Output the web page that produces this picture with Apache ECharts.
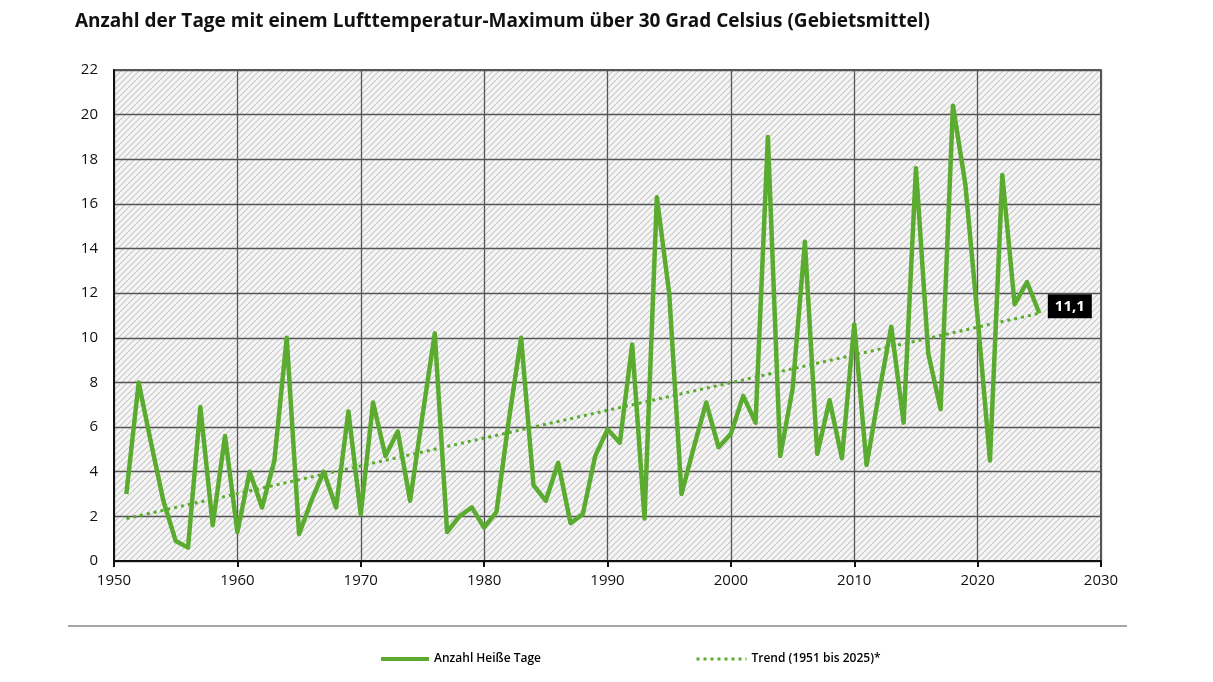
<!DOCTYPE html>
<html><head><meta charset="utf-8">
<script src="https://cdn.jsdelivr.net/npm/echarts@6/dist/echarts.min.js"></script>
<style>html,body{margin:0;padding:0;background:#fff}#c{width:1213px;height:682px}</style>
</head><body><div id="c"></div>
<script>
const years = [1951,1952,1953,1954,1955,1956,1957,1958,1959,1960,1961,1962,1963,1964,1965,1966,1967,1968,1969,1970,1971,1972,1973,1974,1975,1976,1977,1978,1979,1980,1981,1982,1983,1984,1985,1986,1987,1988,1989,1990,1991,1992,1993,1994,1995,1996,1997,1998,1999,2000,2001,2002,2003,2004,2005,2006,2007,2008,2009,2010,2011,2012,2013,2014,2015,2016,2017,2018,2019,2020,2021,2022,2023,2024,2025];
const hotDays = [3.0,8.0,5.3,2.7,0.9,0.6,6.9,1.6,5.6,1.3,4.0,2.4,4.5,10.0,1.2,2.7,4.0,2.4,6.7,2.1,7.1,4.7,5.8,2.7,6.5,10.2,1.3,2.0,2.4,1.5,2.2,6.3,10.0,3.4,2.7,4.4,1.7,2.1,4.7,5.9,5.3,9.7,1.9,16.3,12.0,3.0,5.1,7.1,5.1,5.7,7.4,6.2,19.0,4.7,7.7,14.3,4.8,7.2,4.6,10.6,4.3,7.5,10.5,6.2,17.6,9.3,6.8,20.4,16.9,10.9,4.5,17.3,11.5,12.5,11.1];
const trendYears = [1951, 2025];
const trendValues = [1.9, 11.1];
const xTicks = [1950, 2030, 10];
const yTicks = [0, 22, 2];
const titleText = 'Anzahl der Tage mit einem Lufttemperatur-Maximum über 30 Grad Celsius (Gebietsmittel)';
const seriesNames = ['Anzahl Heiße Tage', 'Trend (1951 bis 2025)*'];

const GREEN = '#5aab2f';
const S = 6;
const pc = document.createElement('canvas');
pc.width = S; pc.height = S;
const g = pc.getContext('2d');
g.fillStyle = '#f6f6f6'; g.fillRect(0,0,S,S);
g.strokeStyle = '#c8c8c8'; g.lineWidth = 1.1;
g.beginPath();
g.moveTo(0,S); g.lineTo(S,0);
g.moveTo(-S/2,S/2); g.lineTo(S/2,-S/2);
g.moveTo(S/2,S*1.5); g.lineTo(S*1.5,S/2);
g.stroke();

const last = years.length - 1;
const legendText = {fontFamily:'Open Sans', fontSize:12, fontWeight:600, color:'#000'};
const chart = echarts.init(document.getElementById('c'), null, {renderer:'canvas'});
chart.setOption({
  animation:false,
  title:{text:titleText, left:70, top:7, textStyle:{fontFamily:'Open Sans', fontWeight:'bold', fontSize:19, color:'#111'}},
  grid:{left:114, right:112, top:70, bottom:121, show:true, backgroundColor:{image:pc, repeat:'repeat'}, borderColor:'#222', borderWidth:1.5},
  legend:[
    {data:[seriesNames[0]], left:374, top:648, itemWidth:48, itemHeight:10, itemGap:6, itemStyle:{opacity:0}, lineStyle:{width:4}, textStyle:legendText},
    {data:[seriesNames[1]], left:690, top:648, itemWidth:50, itemHeight:10, itemGap:6, itemStyle:{opacity:0}, lineStyle:{width:3}, textStyle:legendText}
  ],
  xAxis:{type:'value', min:xTicks[0], max:xTicks[1], interval:xTicks[2],
    axisLine:{lineStyle:{color:'#111', width:2}}, axisTick:{show:true, length:6, lineStyle:{color:'#111', width:2}},
    axisLabel:{fontFamily:'Open Sans', fontSize:15, color:'#111', margin:12, formatter: v => String(v)},
    splitLine:{show:true, lineStyle:{color:'#555', width:1.3}}},
  yAxis:{type:'value', min:yTicks[0], max:yTicks[1], interval:yTicks[2],
    axisLine:{show:true, lineStyle:{color:'#111', width:2}}, axisTick:{show:false},
    axisLabel:{fontFamily:'Open Sans', fontSize:15, color:'#111', margin:16},
    splitLine:{show:true, lineStyle:{color:'#555', width:1.3}}},
  graphic:[{type:'line', shape:{x1:68, y1:626, x2:1127, y2:626}, style:{stroke:'#888', lineWidth:1.5}}],
  series:[
    {name:seriesNames[0], type:'line', data:years.map((y,i)=>[y, hotDays[i]]), symbol:'none',
      lineStyle:{color:GREEN, width:4.5, join:'round'}, itemStyle:{color:GREEN}, z:3,
      markPoint:{symbol:'rect', symbolSize:1, itemStyle:{color:'rgba(0,0,0,0)'},
        data:[{coord:[years[last], hotDays[last]], value:hotDays[last],
          label:{show:true, position:'right', offset:[3,-7], formatter: p => String(p.value).replace('.', ','),
            backgroundColor:'#000', color:'#fff', fontWeight:'bold', fontSize:15, fontFamily:'Open Sans', padding:[5,7,4,7]}}]}},
    {name:seriesNames[1], type:'line', data:trendYears.map((y,i)=>[y,trendValues[i]]), symbol:'none',
      lineStyle:{color:GREEN, width:3, type:[3,4]}, itemStyle:{color:GREEN}, z:2}
  ]
});
</script></body></html>
